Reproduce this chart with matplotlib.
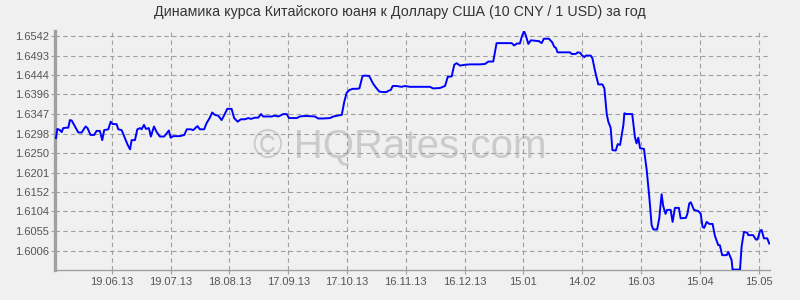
import datetime as dt
import matplotlib
matplotlib.use("Agg")
import matplotlib.pyplot as plt
import matplotlib.dates as mdates

# ---- data ----
start_date = "2013-05-21"
end_date = "2014-05-20"
day_offsets = [
    0.5, 1.2, 2.5, 3.4, 4.2, 6.0, 6.8, 7.6, 8.5, 10.2, 11.9, 13.6, 15.6, 16.6, 18.1, 20.0,
    21.2, 22.9, 24.1, 25.1, 27.2, 28.4, 29.4, 30.6, 31.4, 32.3, 34.0, 35.7, 37.1, 38.3, 39.1,
    40.8, 42.0, 43.4, 44.2, 45.4, 46.4, 47.9, 48.9, 50.5, 51.9, 53.5, 55.7, 58.1, 59.0, 60.4,
    63.7, 66.0, 67.2, 69.3, 70.5, 72.7, 73.9, 76.1, 77.3, 79.0, 80.2, 81.6, 83.3, 85.0, 86.2,
    87.9, 90.1, 91.4, 93.2, 94.8, 96.9, 98.6, 100.0, 102.0, 103.7, 105.1, 106.2, 108.8, 110.5,
    112.2, 113.9, 116.5, 118.2, 119.4, 121.6, 123.3, 125.0, 126.7, 129.2, 132.6, 134.3, 136.8,
    140.3, 142.0, 144.0, 146.3, 147.6, 148.8, 150.2, 151.9, 153.6, 155.3, 156.9, 158.1, 160.3,
    162.4, 164.1, 165.5, 167.5, 169.2, 170.0, 171.3, 172.3, 174.3, 176.8, 178.6, 181.1, 184.5,
    186.2, 191.3, 192.9, 196.4, 199.0, 200.4, 202.4, 203.7, 204.9, 206.6, 209.2, 211.7, 214.3,
    216.8, 219.4, 221.1, 223.6, 225.3, 229.6, 233.0, 234.3, 235.6, 237.2, 238.1, 239.3, 240.1,
    241.5, 242.8, 244.9, 246.9, 248.3, 249.4, 252.0, 253.7, 254.7, 255.6, 256.4, 260.2, 262.8,
    263.6, 265.7, 266.7, 267.9, 269.0, 270.1, 270.8, 273.3, 274.2, 275.6, 277.2, 279.3, 280.3,
    281.5, 282.3, 283.5, 284.4, 286.1, 287.1, 288.3, 290.0, 290.5, 291.6, 294.5, 295.9, 296.7,
    297.6, 298.5, 300.5, 301.9, 303.2, 304.4, 305.3, 307.2, 308.3, 309.5, 310.3, 311.5, 312.3,
    314.1, 315.1, 316.3, 318.3, 319.2, 321.9, 322.7, 323.6, 324.4, 326.0, 328.2, 329.4, 330.4,
    331.2, 332.5, 333.8, 335.5, 336.7, 338.4, 339.2, 340.4, 342.7, 343.5, 345.2, 345.7, 349.5,
    350.3, 351.5, 353.2, 353.7, 356.2, 357.6, 358.4, 359.7, 360.5, 361.7, 363.4, 364.4,
]
rates = [
    1.6287, 1.6310, 1.6307, 1.6302, 1.6312, 1.6313, 1.6313, 1.6332, 1.6331, 1.6316, 1.6301, 1.6301, 1.6316, 1.6312, 1.6295, 1.6295,
    1.6305, 1.6305, 1.6282, 1.6307, 1.6309, 1.6328, 1.6322, 1.6322, 1.6322, 1.6309, 1.6307, 1.6287, 1.6270, 1.6259, 1.6282,
    1.6282, 1.6309, 1.6312, 1.6309, 1.6320, 1.6310, 1.6312, 1.6291, 1.6316, 1.6302, 1.6291, 1.6291, 1.6306, 1.6288, 1.6292,
    1.6292, 1.6295, 1.6309, 1.6309, 1.6307, 1.6317, 1.6309, 1.6309, 1.6324, 1.6338, 1.6351, 1.6345, 1.6343, 1.6332, 1.6343,
    1.6360, 1.6360, 1.6337, 1.6328, 1.6334, 1.6334, 1.6337, 1.6335, 1.6338, 1.6338, 1.6347, 1.6341, 1.6341, 1.6341,
    1.6343, 1.6341, 1.6347, 1.6347, 1.6337, 1.6337, 1.6337, 1.6341, 1.6342, 1.6342, 1.6341, 1.6336, 1.6336,
    1.6337, 1.6341, 1.6343, 1.6345, 1.6378, 1.6400, 1.6407, 1.6410, 1.6410, 1.6411, 1.6442, 1.6443, 1.6442,
    1.6422, 1.6411, 1.6403, 1.6402, 1.6402, 1.6405, 1.6407, 1.6417, 1.6417, 1.6415, 1.6417, 1.6415, 1.6415,
    1.6415, 1.6415, 1.6411, 1.6412, 1.6417, 1.6440, 1.6441, 1.6470, 1.6474, 1.6468, 1.6470, 1.6471, 1.6471,
    1.6471, 1.6472, 1.6478, 1.6478, 1.6524, 1.6524, 1.6524, 1.6518, 1.6523, 1.6523, 1.6539, 1.6554, 1.6545,
    1.6522, 1.6531, 1.6530, 1.6529, 1.6524, 1.6535, 1.6535, 1.6526, 1.6515, 1.6512, 1.6501, 1.6501, 1.6501,
    1.6497, 1.6497, 1.6501, 1.6500, 1.6493, 1.6489, 1.6493, 1.6493, 1.6486, 1.6453, 1.6421, 1.6421, 1.6411,
    1.6347, 1.6328, 1.6313, 1.6257, 1.6256, 1.6272, 1.6270, 1.6320, 1.6349, 1.6347, 1.6347, 1.6289, 1.6274,
    1.6288, 1.6262, 1.6260, 1.6207, 1.6141, 1.6070, 1.6059, 1.6059, 1.6087, 1.6147, 1.6118, 1.6098, 1.6108,
    1.6108, 1.6078, 1.6113, 1.6113, 1.6087, 1.6088, 1.6099, 1.6124, 1.6127, 1.6108, 1.6105, 1.6099, 1.6066,
    1.6063, 1.6078, 1.6073, 1.6073, 1.6043, 1.6020, 1.6020, 1.5995, 1.5995, 1.6003, 1.5983, 1.5959, 1.5959,
    1.6016, 1.6053, 1.6051, 1.6045, 1.6045, 1.6034, 1.6034, 1.6055, 1.6058, 1.6037, 1.6037, 1.6024,
]
x_tick_dates = ["2013-06-19", "2013-07-19", "2013-08-18", "2013-09-17", "2013-10-17",
                "2013-11-16", "2013-12-16", "2014-01-15", "2014-02-14", "2014-03-16",
                "2014-04-15", "2014-05-15"]
x_tick_labels = ["19.06.13", "19.07.13", "18.08.13", "17.09.13", "17.10.13", "16.11.13",
                 "16.12.13", "15.01", "14.02", "16.03", "15.04", "15.05"]
y_ticks = [1.6006, 1.6055, 1.6104, 1.6152, 1.6201, 1.6250, 1.6298, 1.6347,
           1.6396, 1.6444, 1.6493, 1.6542]
y_range = (1.5958, 1.6555)
title = "Динамика курса Китайского юаня к Доллару США (10 CNY / 1 USD) за год"
watermark = "© HQRates.com"

# ---- plot ----
plt.rcParams['font.family'] = ['Liberation Sans', 'DejaVu Sans']
bg = "#f0f0f0"
fig = plt.figure(figsize=(8, 3), dpi=100, facecolor=bg)
ax = fig.add_axes([55 / 800, 1 - 270 / 300, 715 / 800, (270 - 30.7) / 300])
ax.set_facecolor(bg)

d0 = mdates.date2num(dt.datetime.strptime(start_date, "%Y-%m-%d"))
d1 = mdates.date2num(dt.datetime.strptime(end_date, "%Y-%m-%d")) + 0.8
xs = [d0 + d for d in day_offsets]
ax.plot(xs, rates, color="#0000ff", lw=1.4, zorder=3, solid_joinstyle="round")

ax.set_xlim(d0, d1)
ax.set_ylim(*y_range)
xt = [mdates.date2num(dt.datetime.strptime(s, "%Y-%m-%d")) for s in x_tick_dates]
ax.set_xticks(xt)
ax.set_xticklabels(x_tick_labels)
ax.set_yticks(y_ticks)
ax.set_yticklabels([f"{v:.4f}" for v in y_ticks])

ax.grid(True, color="#a0a0a0", lw=0.8, linestyle=(0, (4, 3)), zorder=1)
ax.set_axisbelow(True)
for s in ["top", "right"]:
    ax.spines[s].set_visible(False)
ax.spines["left"].set_color("#a0a0a0")
ax.spines["left"].set_linewidth(2.4)
ax.spines["bottom"].set_color("#a0a0a0")
ax.spines["bottom"].set_linewidth(1.0)
ax.tick_params(axis="both", colors="#a0a0a0", labelcolor="#555555", labelsize=8,
               length=3, width=0.8)
ax.tick_params(axis="x", pad=2)
ax.tick_params(axis="y", pad=1)

ax.text(400 / 800, 1 - 147 / 300, watermark, transform=fig.transFigure,
        ha="center", va="center", fontsize=29, color="#cbcbcb", zorder=0.2)

fig.text(0.5, 1 - 12 / 300, title, ha="center", va="center", fontsize=10.3, color="#333333")

fig.savefig("out.png", dpi=100, facecolor=bg)
